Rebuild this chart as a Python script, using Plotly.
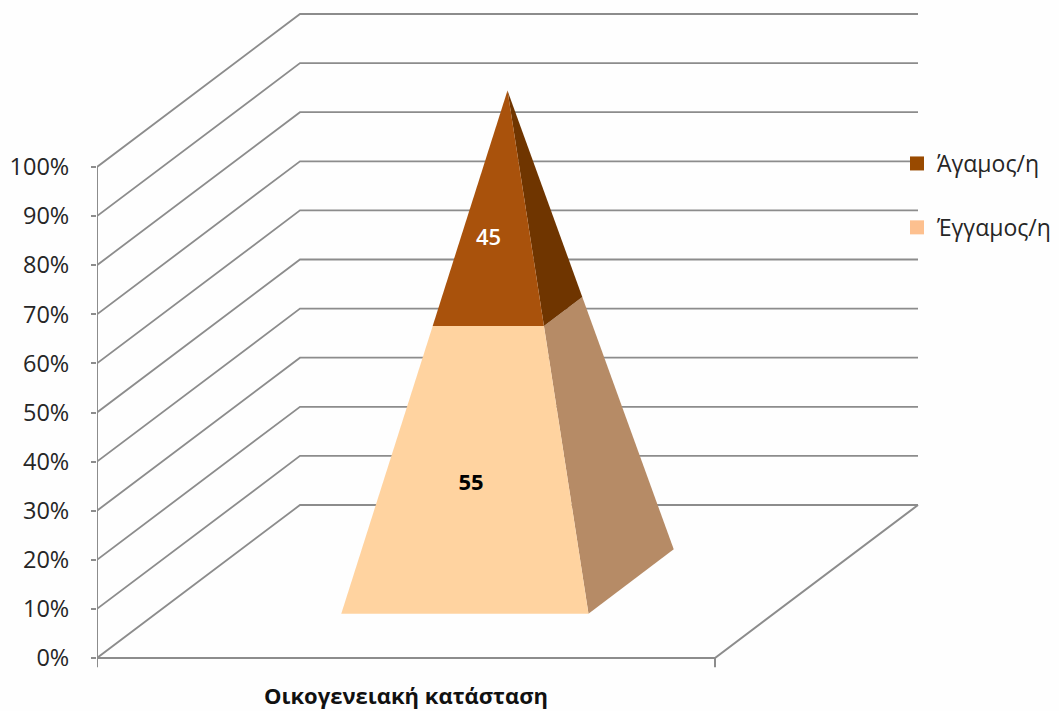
import plotly.graph_objects as go

# Data
category = "Οικογενειακή κατάσταση"
series_names = ["Έγγαμος/η", "Άγαμος/η"]
series_values = [55, 45]
tick_values = [0, 10, 20, 30, 40, 50, 60, 70, 80, 90, 100]
tick_labels = [f"{v}%" for v in tick_values]

# Style
FACE = {"Έγγαμος/η": "#FFD3A0", "Άγαμος/η": "#A9520C"}
SIDE = {"Έγγαμος/η": "#B68B66", "Άγαμος/η": "#6F3500"}
KEY = {"Έγγαμος/η": "#FDC08F", "Άγαμος/η": "#994A00"}
LABEL = {"Έγγαμος/η": "#000000", "Άγαμος/η": "#FFFFFF"}
LABEL_WEIGHT = {"Έγγαμος/η": 700, "Άγαμος/η": 600}
LABEL_FRAC = {"Έγγαμος/η": 0.45, "Άγαμος/η": 0.367}
LABEL_DX = {"Έγγαμος/η": -0.007, "Άγαμος/η": -0.011}
GREY = "#8C8C8C"
FONT = "Open Sans"

W, H = 1059, 711
LEFT = 97          # pixel of the front-left corner
ZERO_Y = 658       # pixel of the 0% front line
X_PX = 618         # pixels per unit of category width
Y_PX = 4.91        # pixels per percent
DEPTH_X = 203 / X_PX   # oblique shift of the depth axis
DEPTH_Y = 153 / Y_PX


def proj(x, d, v):
    """Oblique projection: category x, depth d, value v -> axis coordinates."""
    return x + DEPTH_X * d, v + DEPTH_Y * d


def poly(points):
    pts = [proj(*p) for p in points]
    return [p[0] for p in pts], [p[1] for p in pts]


# Pyramid geometry (gap width 150%)
CX, HALF = 0.5, 0.2
DC, DHALF = 0.5, 0.21
TOTAL = sum(series_values)


def corner(sx, sd, v):
    t = 1 - v / TOTAL
    return (CX + sx * HALF * t, DC + sd * DHALF * t, v)


fig = go.Figure()

# Walls: gridlines
gx, gy = [], []
for v in tick_values:
    xs, ys = poly([(0, 0, v), (0, 1, v), (1, 1, v)])
    gx += xs + [None]
    gy += ys + [None]
fig.add_trace(go.Scatter(x=gx, y=gy, mode="lines", line=dict(color=GREY, width=1.8),
                         showlegend=False, hoverinfo="skip"))

# Floor edges
xs, ys = poly([(0, 0, 0), (1, 0, 0), (1, 1, 0)])
fig.add_trace(go.Scatter(x=xs, y=ys, mode="lines", line=dict(color=GREY, width=2),
                         showlegend=False, hoverinfo="skip"))

# Value axis line and category ticks
ax = [0, 0, None, 1, 1]
ay = [tick_values[-1], -1.9, None, 0, -1.9]
fig.add_trace(go.Scatter(x=ax, y=ay, mode="lines", line=dict(color=GREY, width=2),
                         showlegend=False, hoverinfo="skip"))

# Pyramid segments
base = 0
for name, val in zip(series_names, series_values):
    top = base + val
    # right side
    xs, ys = poly([corner(1, -1, base), corner(1, 1, base), corner(1, 1, top), corner(1, -1, top)])
    fig.add_trace(go.Scatter(x=xs, y=ys, mode="lines", fill="toself", fillcolor=SIDE[name],
                             line=dict(width=0), showlegend=False, hoverinfo="skip"))
    # front face
    xs, ys = poly([corner(-1, -1, base), corner(1, -1, base), corner(1, -1, top), corner(-1, -1, top)])
    fig.add_trace(go.Scatter(x=xs, y=ys, mode="lines", fill="toself", fillcolor=FACE[name],
                             line=dict(width=0), showlegend=False, hoverinfo="skip"))
    # value label
    lv = base + LABEL_FRAC[name] * val
    lx, ly = proj(*corner(0, -1, lv))
    fig.add_trace(go.Scatter(x=[lx + LABEL_DX[name]], y=[ly], mode="text", text=[str(val)],
                             textposition="middle center",
                             textfont=dict(family=FONT, size=22, color=LABEL[name],
                                           weight=LABEL_WEIGHT[name]),
                             showlegend=False, hoverinfo="skip"))
    base = top

# Legend keys
for i, name in enumerate(reversed(series_names)):
    fig.add_trace(go.Scatter(x=[None], y=[None], mode="markers", name=name,
                             legendgroup=name,
                             marker=dict(symbol="square", size=14, color=KEY[name])))

x_max = (W - LEFT) / X_PX
fig.update_layout(
    width=W, height=H,
    margin=dict(l=LEFT, r=0, t=0, b=0),
    paper_bgcolor="#FEFEFE", plot_bgcolor="#FEFEFE",
    font=dict(family=FONT, color="#262626"),
    xaxis=dict(range=[0, x_max], visible=False, fixedrange=True),
    yaxis=dict(range=[-(H - ZERO_Y) / Y_PX, ZERO_Y / Y_PX],
               tickmode="array", tickvals=tick_values, ticktext=tick_labels,
               ticks="outside", ticklen=5, tickwidth=2, tickcolor=GREY,
               ticklabelstandoff=17,
               tickfont=dict(family=FONT, size=23.5, color="#262626"),
               showgrid=False, zeroline=False, showline=False, fixedrange=True),
    legend=dict(x=(897 - LEFT) / (W - LEFT), y=1 - 142 / H, xanchor="left", yanchor="top",
                tracegroupgap=31, font=dict(family=FONT, size=23, color="#262626"),
                bgcolor="rgba(0,0,0,0)"),
    annotations=[dict(x=0.5, y=-7.5, xref="x", yref="y", text=f"<b>{category}</b>",
                      showarrow=False, font=dict(family=FONT, size=22, color="#111111"))],
)

fig.write_html("out.html", post_script="document.body.style.margin='0';",
               config={"displayModeBar": False})
